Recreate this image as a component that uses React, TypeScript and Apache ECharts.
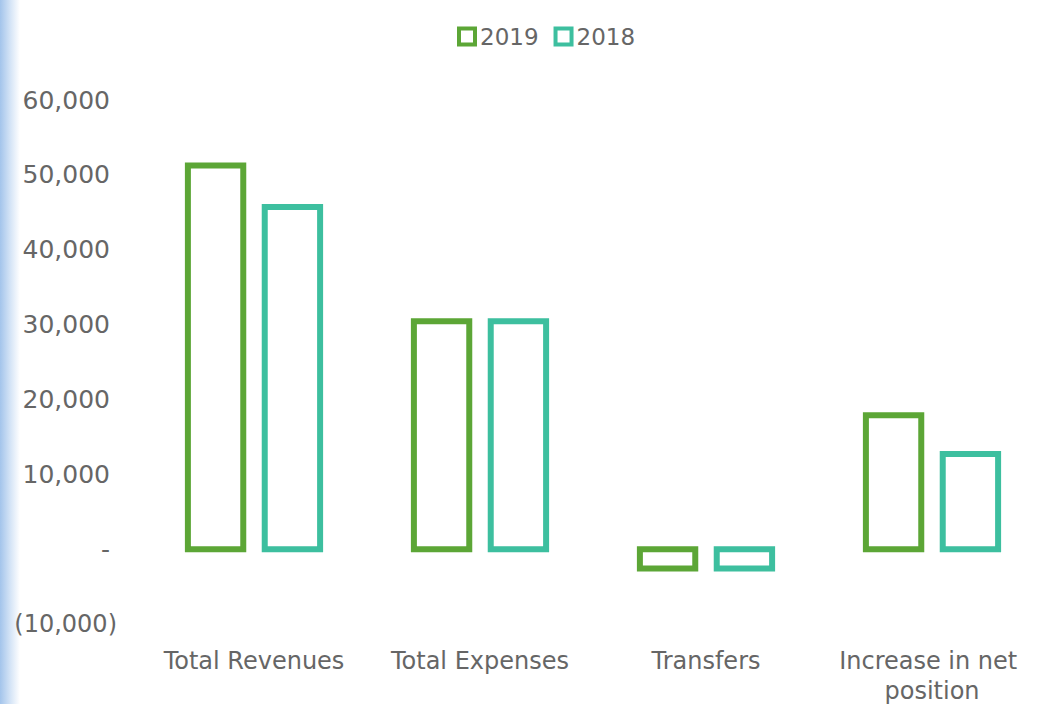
import React, { useEffect, useRef } from "react";
import * as echarts from "echarts";

const categories = ["Total Revenues", "Total Expenses", "Transfers", "Increase in net position"];
const values2019 = [51250, 30450, -2600, 17900];
const values2018 = [45700, 30450, -2600, 12700];
const yTicks = { min: -10000, max: 60000, interval: 10000 };

const GREEN = "#5ca636";
const TEAL = "#3dbf9f";
const TEXT = "#666666";
const FONT = "'DejaVu Sans', Verdana, sans-serif";

function fmt(v: number): string {
  if (v === 0) return "{p|-}";
  const s = Math.abs(v).toLocaleString("en-US");
  return v < 0 ? `{n|(${s})}` : `{p|${s}}`;
}

// hollow bar with a stroke centred on the value edges (like the source chart)
function makeRenderer(shift: number, color: string) {
  return (_params: any, api: any) => {
    const cat = api.value(0);
    const val = api.value(1);
    const base = api.coord([cat, 0]);
    const top = api.coord([cat, val]);
    const band = api.size([1, 0])[0];
    const w = band * 0.245;
    const cx = base[0] + band * shift;
    return {
      type: "rect",
      shape: {
        x: cx - w / 2,
        y: Math.min(base[1], top[1]),
        width: w,
        height: Math.abs(top[1] - base[1]),
      },
      style: { fill: "#ffffff", stroke: color, lineWidth: 6 },
    };
  };
}

export default function App() {
  const ref = useRef<HTMLDivElement>(null);
  useEffect(() => {
    if (!ref.current) return;
    const chart = echarts.init(ref.current, undefined, { renderer: "svg" });
    chart.setOption({
      animation: false,
      backgroundColor: "#ffffff",
      graphic: [
        {
          type: "rect",
          left: 0,
          top: 0,
          shape: { width: 20, height: 704 },
          style: {
            fill: new echarts.graphic.LinearGradient(0, 0, 1, 0, [
              { offset: 0, color: "#a3c4eb" },
              { offset: 0.5, color: "#d3e3f6" },
              { offset: 1, color: "#ffffff" },
            ]),
          },
          silent: true,
          z: -1,
        },
      ],
      legend: {
        top: 20,
        left: 452,
        itemWidth: 16,
        itemHeight: 16,
        itemGap: 15,
        textStyle: { color: TEXT, fontSize: 23, fontFamily: FONT },
        data: [
          { name: "2019", icon: "rect", itemStyle: { color: "#ffffff", borderColor: GREEN, borderWidth: 4 } },
          { name: "2018", icon: "rect", itemStyle: { color: "#ffffff", borderColor: TEAL, borderWidth: 4 } },
        ],
      },
      grid: {
        left: 141,
        right: -5,
        top: 100,
        bottom: 80,
        containLabel: false,
        outerBoundsMode: "none",
      },
      xAxis: {
        type: "category",
        data: categories,
        axisLine: { show: false },
        axisTick: { show: false },
        axisLabel: {
          color: TEXT,
          fontSize: 24,
          fontFamily: FONT,
          margin: 22,
          width: 210,
          overflow: "break",
          lineHeight: 30,
          interval: 0,
        },
      },
      yAxis: {
        type: "value",
        min: yTicks.min,
        max: yTicks.max,
        interval: yTicks.interval,
        splitLine: { show: false },
        axisLine: { show: false },
        axisTick: { show: false },
        axisLabel: {
          color: TEXT,
          fontSize: 24,
          fontFamily: FONT,
          margin: 24,
          formatter: (v: number) => fmt(v),
          rich: {
            p: { color: TEXT, fontSize: 25, fontFamily: FONT, padding: [0, 7, 0, 0] },
            n: { color: TEXT, fontSize: 24, fontFamily: FONT },
          },
        },
      },
      series: [
        {
          name: "2019",
          type: "custom",
          data: values2019.map((v, i) => [i, v]),
          encode: { x: 0, y: 1 },
          itemStyle: { color: GREEN },
          renderItem: makeRenderer(-0.17, GREEN),
        },
        {
          name: "2018",
          type: "custom",
          data: values2018.map((v, i) => [i, v]),
          encode: { x: 0, y: 1 },
          itemStyle: { color: TEAL },
          renderItem: makeRenderer(0.17, TEAL),
        },
      ],
    });
    return () => chart.dispose();
  }, []);
  return (
    <div
      ref={ref}
      style={{ position: "fixed", left: 0, top: 0, width: 1040, height: 704 }}
    />
  );
}
